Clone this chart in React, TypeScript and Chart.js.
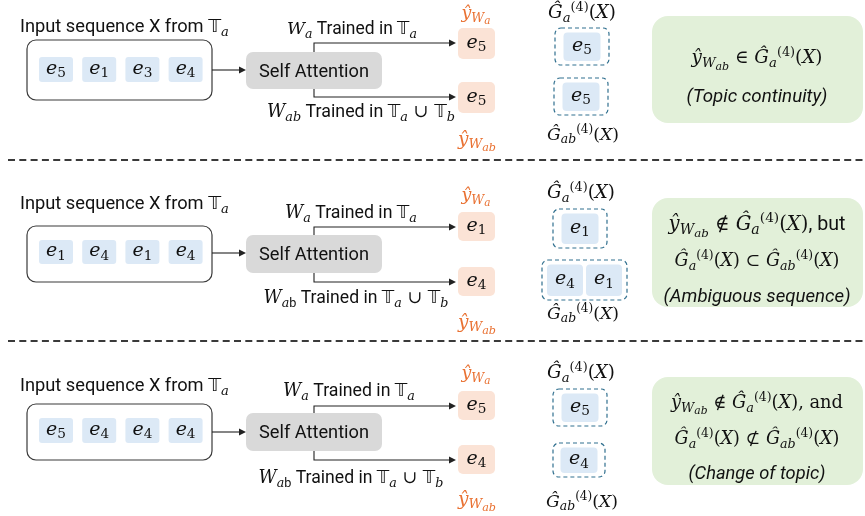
import React, { useEffect, useRef } from "react";
import { Chart, registerables } from "chart.js";
Chart.register(...registerables);

// ---- data ----
const inputSequences = [[5, 1, 3, 4], [1, 4, 1, 4], [5, 4, 4, 4]];
const predictedWa = [5, 1, 5];
const predictedWab = [5, 4, 4];
const groupA = [[5], [1], [5]];
const groupAB = [[5], [4, 1], [4]];
const caseTitles = ["(Topic continuity)", "(Ambiguous sequence)", "(Change of topic)"];
const membership = ["∈", "∉", "∉"];
const subsetRel = ["", "⊂", "⊄"];
const connectors = ["", "but", "and"];

type Run = { t: string; f: string; k?: number; c?: string };
const SANS = 'Roboto, "Noto Sans", sans-serif';
const SERIF = '"DejaVu Serif", "Liberation Serif", serif';
const DSF = '"DejaVu Sans", "Noto Sans", sans-serif';
const ORANGE = "#e97132";

const it = (t: string, k = 0): Run => ({ t, f: "i", k });
const rm = (t: string, k = 0): Run => ({ t, f: "r", k });
const sa = (t: string, k = 0): Run => ({ t, f: "s", k });
const si = (t: string, k = 0): Run => ({ t, f: "si", k });
const ds = (t: string, k = 0): Run => ({ t, f: "d", k });

const tok = (n: number): Run[] => [it("e"), rm(String(n), 1)];
const yhat = (sub: string): Run[] => [it("ŷ"), it("W", 1), it(sub, 3)];
const Ghat = (sub: string): Run[] => [it("Ĝ"), it(sub, 1), rm("(4)", 2), rm("("), it("X"), rm(")")];
const TT = (sub: string): Run[] => [ds("𝕋"), it(sub, 1)];

const SCALE = [1, 0.72, 0.7, 0.6];
const SHIFT = [0, 0.2, -0.42, 0.34];

function fontFor(r: Run, s: number) {
  switch (r.f) {
    case "i": return `italic ${s}px ${SERIF}`;
    case "r": return `${s}px ${SERIF}`;
    case "si": return `italic ${s}px ${SANS}`;
    case "d": return `${s}px ${DSF}`;
    default: return `${s}px ${SANS}`;
  }
}

function drawRich(ctx: CanvasRenderingContext2D, runs: Run[], x: number, cy: number, B: number, align: string, width?: number, color = "#111") {
  const lay = (b: number) => {
    let w = 0;
    const parts = runs.map((r) => {
      const k = r.k || 0;
      const s = b * SCALE[k];
      ctx.font = fontFor(r, s);
      const m = ctx.measureText(r.t).width;
      const p = { r, s, x: w, dy: SHIFT[k] * b };
      w += m;
      return p;
    });
    return { parts, w };
  };
  let L = lay(B);
  if (width) { B = (B * width) / L.w; L = lay(B); }
  const start = align === "center" ? x - L.w / 2 : align === "left" ? x : x - L.w;
  const base = cy + 0.35 * B;
  ctx.textBaseline = "alphabetic";
  ctx.textAlign = "left";
  for (const p of L.parts) {
    ctx.font = fontFor(p.r, p.s);
    ctx.fillStyle = p.r.c || color;
    ctx.fillText(p.r.t, start + p.x, base + p.dy);
  }
}

// layout of the three panels (pixel positions in the 865x516 frame)
const GEO = [
  { inT: 26, box: [40, 100], tk: [57, 82], arrowY: 70, sa: [52, 89], up: 43, dn: 97, waT: [352, 28, 130], wabT: [361, 111, 188], pA: [28, 59], pB: [82, 113], yWa: [476, 12], yWab: [477, 138], gaL: [582, 12], dA: [555, 28, 609, 65], dB: [554, 78, 608, 115], gabL: [583, 134], green: [16, 123], lines: [[57, 131], [95, 141]] },
  { inT: 203, box: [226, 282], tk: [240, 264], arrowY: 253, sa: [235, 273], up: 227, dn: 282, waT: [351, 212, 132], wabT: [356, 297, 185], pA: [212, 241], pB: [267, 296], yWa: [476, 194], yWab: [477, 321], gaL: [581, 192], dA: [553, 209, 607, 248], dB: [542, 260, 627, 300], gabL: [583, 313], green: [198, 307], lines: [[223, 177], [260, 165], [295, 187]] },
  { inT: 385, box: [404, 460], tk: [418, 443], arrowY: 432, sa: [413, 451], up: 406, dn: 460, waT: [349, 390, 132], wabT: [351, 477, 185], pA: [391, 420], pB: [445, 474], yWa: [476, 372], yWab: [477, 498], gaL: [581, 372], dA: [553, 389, 607, 426], dB: [553, 443, 605, 477], gabL: [582, 501], green: [377, 485], lines: [[402, 172], [438, 165], [473, 137]] },
];
const SEPARATORS = [160, 341];

const diagramPlugin = {
  id: "diagram",
  afterDraw(chart: any) {
    const ctx: CanvasRenderingContext2D = chart.ctx;
    const X = (v: number) => chart.scales.x.getPixelForValue(v);
    const Y = (v: number) => chart.scales.y.getPixelForValue(v);
    const rr = (x1: number, y1: number, x2: number, y2: number, r: number, fill?: string, stroke?: string, dash?: number[], lw = 1) => {
      ctx.beginPath();
      ctx.roundRect(X(x1), Y(y1), X(x2) - X(x1), Y(y2) - Y(y1), r);
      if (fill) { ctx.fillStyle = fill; ctx.fill(); }
      if (stroke) { ctx.setLineDash(dash || []); ctx.lineWidth = lw; ctx.strokeStyle = stroke; ctx.stroke(); ctx.setLineDash([]); }
    };
    const head = (x: number, y: number) => {
      ctx.beginPath();
      ctx.moveTo(X(x), Y(y));
      ctx.lineTo(X(x) - 7, Y(y) - 3.5);
      ctx.lineTo(X(x) - 7, Y(y) + 3.5);
      ctx.closePath();
      ctx.fillStyle = "#222";
      ctx.fill();
    };
    ctx.save();
    // separators
    ctx.setLineDash([7, 4.3]);
    ctx.lineWidth = 1.8;
    ctx.strokeStyle = "#3a3a3a";
    for (const s of SEPARATORS) {
      ctx.beginPath();
      ctx.moveTo(X(8), Y(s));
      ctx.lineTo(X(865), Y(s));
      ctx.stroke();
    }
    ctx.setLineDash([]);

    GEO.forEach((g, i) => {
      // input label + box
      drawRich(ctx, [sa("Input sequence X from "), ...TT("a")], X(20), Y(g.inT), 17, "left", 209);
      rr(27, g.box[0], 212, g.box[1], 9, "#fff", "#3a3a3a", undefined, 1.2);
      inputSequences[i].forEach((n, j) => {
        const x1 = 39 + j * 43.2;
        rr(x1, g.tk[0], x1 + 34, g.tk[1], 3, "#dce9f6");
        drawRich(ctx, tok(n), X(x1 + 17), Y((g.tk[0] + g.tk[1]) / 2) - 2.5, 19, "center");
      });
      // arrow to self attention
      ctx.strokeStyle = "#222";
      ctx.lineWidth = 1.1;
      ctx.beginPath();
      ctx.moveTo(X(212), Y(g.arrowY));
      ctx.lineTo(X(240), Y(g.arrowY));
      ctx.stroke();
      head(246, g.arrowY);
      // self attention
      rr(246, g.sa[0], 382, g.sa[1], 7, "#d9d9d9");
      drawRich(ctx, [sa("Self Attention")], X(314), Y((g.sa[0] + g.sa[1]) / 2), 17, "center", 110);
      // branches
      ctx.strokeStyle = "#222";
      ctx.lineWidth = 1.1;
      ctx.beginPath();
      ctx.moveTo(X(314), Y(g.sa[0]));
      ctx.lineTo(X(314), Y(g.up));
      ctx.lineTo(X(450), Y(g.up));
      ctx.moveTo(X(314), Y(g.sa[1]));
      ctx.lineTo(X(314), Y(g.dn));
      ctx.lineTo(X(450), Y(g.dn));
      ctx.stroke();
      head(456, g.up);
      head(456, g.dn);
      // branch labels
      drawRich(ctx, [it("W"), it("a", 1), sa(" Trained in "), ...TT("a")], X(g.waT[0]), Y(g.waT[1]), 17, "center", g.waT[2]);
      const wab = i === 0 ? [it("W"), it("ab", 1)] : [it("W"), it("a", 1), sa("b", 1)];
      drawRich(ctx, [...wab, sa(" Trained in "), ...TT("a"), rm(" ∪ "), ...TT("b")], X(g.wabT[0]), Y(g.wabT[1]), 17, "center", g.wabT[2]);
      // predictions
      rr(458, g.pA[0], 495, g.pA[1], 5, "#fbe3d6");
      drawRich(ctx, tok(predictedWa[i]), X(476.5), Y((g.pA[0] + g.pA[1]) / 2) - 2.5, 19, "center");
      rr(458, g.pB[0], 495, g.pB[1], 5, "#fbe3d6");
      drawRich(ctx, tok(predictedWab[i]), X(476.5), Y((g.pB[0] + g.pB[1]) / 2) - 2.5, 19, "center");
      drawRich(ctx, yhat("a"), X(g.yWa[0]), Y(g.yWa[1]), 19, "center", 29, ORANGE);
      drawRich(ctx, yhat("ab"), X(g.yWab[0]), Y(g.yWab[1]), 19, "center", 38, ORANGE);
      // groups
      const drawGroup = (d: number[], toks: number[]) => {
        rr(d[0], d[1], d[2], d[3], 6, undefined, "#31708f", [4, 3], 1.2);
        const tw = toks.length > 1 ? 36 : 37;
        const total = toks.length * tw + (toks.length - 1) * 3;
        const sx = (d[0] + d[2]) / 2 - total / 2;
        toks.forEach((n, j) => {
          const x1 = sx + j * (tw + 3);
          rr(x1, d[1] + 4.5, x1 + tw, d[3] - 4, 4, "#dce9f6");
          drawRich(ctx, tok(n), X(x1 + tw / 2), Y((d[1] + d[3]) / 2) - 2.5, 19, "center");
        });
      };
      drawRich(ctx, Ghat("a"), X(g.gaL[0]), Y(g.gaL[1]), 19, "center", 68);
      drawGroup(g.dA, groupA[i]);
      drawGroup(g.dB, groupAB[i]);
      drawRich(ctx, Ghat("ab"), X(g.gabL[0]), Y(g.gabL[1]), 19, "center", 72);
      // conclusion box
      rr(652, g.green[0], 863, g.green[1], 16, "#e2f0d9");
      const lines: Run[][] = [];
      const l1: Run[] = [...yhat("ab"), rm(` ${membership[i]} `), ...Ghat("a")];
      if (connectors[i] === "but") l1.push(sa(", but"));
      else if (connectors[i] === "and") l1.push(rm(", and"));
      lines.push(l1);
      if (subsetRel[i]) lines.push([...Ghat("a"), rm(` ${subsetRel[i]} `), ...Ghat("ab")]);
      lines.push([si(caseTitles[i])]);
      lines.forEach((ln, j) => {
        drawRich(ctx, ln, X(757), Y(g.lines[j][0]), 17, "center", g.lines[j][1]);
      });
    });
    ctx.restore();
  },
};

export default function App() {
  const ref = useRef<HTMLCanvasElement | null>(null);
  useEffect(() => {
    document.body.style.margin = "0";
    const chart = new Chart(ref.current!, {
      type: "scatter",
      data: { datasets: [{ data: [], pointRadius: 0 }] },
      options: {
        responsive: false,
        animation: false,
        events: [],
        layout: { padding: 0 },
        plugins: { legend: { display: false }, tooltip: { enabled: false } },
        scales: {
          x: { type: "linear", min: 0, max: 865, display: false },
          y: { type: "linear", min: 0, max: 516, reverse: true, display: false },
        },
      },
      plugins: [diagramPlugin],
    });
    return () => chart.destroy();
  }, []);
  return (
    <div style={{ position: "absolute", left: 0, top: 0, width: 865, height: 516, background: "#fff" }}>
      <canvas ref={ref} width={865} height={516} />
    </div>
  );
}
